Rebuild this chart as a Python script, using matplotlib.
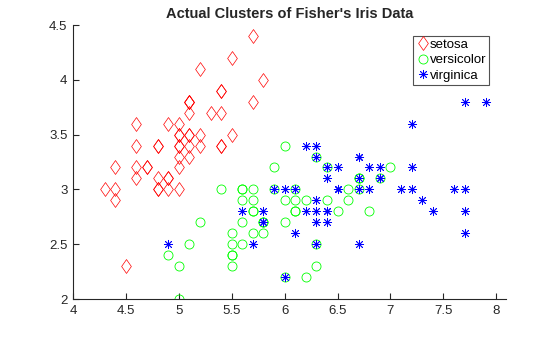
import matplotlib
matplotlib.use("Agg")
import matplotlib.pyplot as plt
from matplotlib.path import Path

plt.rcParams['font.family'] = ['Liberation Sans', 'DejaVu Sans']

setosa_sl = [5.1,4.9,4.7,4.6,5.0,5.4,4.6,5.0,4.4,4.9,5.4,4.8,4.8,4.3,5.8,5.7,5.4,5.1,5.7,5.1,
             5.4,5.1,4.6,5.1,4.8,5.0,5.0,5.2,5.2,4.7,4.8,5.4,5.2,5.5,4.9,5.0,5.5,4.9,4.4,5.1,
             5.0,4.5,4.4,5.0,5.1,4.8,5.1,4.6,5.3,5.0]
setosa_sw = [3.5,3.0,3.2,3.1,3.6,3.9,3.4,3.4,2.9,3.1,3.7,3.4,3.0,3.0,4.0,4.4,3.9,3.5,3.8,3.8,
             3.4,3.7,3.6,3.3,3.4,3.0,3.4,3.5,3.4,3.2,3.1,3.4,4.1,4.2,3.1,3.2,3.5,3.6,3.0,3.4,
             3.5,2.3,3.2,3.5,3.8,3.0,3.8,3.2,3.7,3.3]
versicolor_sl = [7.0,6.4,6.9,5.5,6.5,5.7,6.3,4.9,6.6,5.2,5.0,5.9,6.0,6.1,5.6,6.7,5.6,5.8,6.2,5.6,
                 5.9,6.1,6.3,6.1,6.4,6.6,6.8,6.7,6.0,5.7,5.5,5.5,5.8,6.0,5.4,6.0,6.7,6.3,5.6,5.5,
                 5.5,6.1,5.8,5.0,5.6,5.7,5.7,6.2,5.1,5.7]
versicolor_sw = [3.2,3.2,3.1,2.3,2.8,2.8,3.3,2.4,2.9,2.7,2.0,3.0,2.2,2.9,2.9,3.1,3.0,2.7,2.2,2.5,
                 3.2,2.8,2.5,2.8,2.9,3.0,2.8,3.0,2.9,2.6,2.4,2.4,2.7,2.7,3.0,3.4,3.1,2.3,3.0,2.5,
                 2.6,3.0,2.6,2.3,2.7,3.0,2.9,2.9,2.5,2.8]
virginica_sl = [6.3,5.8,7.1,6.3,6.5,7.6,4.9,7.3,6.7,7.2,6.5,6.4,6.8,5.7,5.8,6.4,6.5,7.7,7.7,6.0,
                6.9,5.6,7.7,6.3,6.7,7.2,6.2,6.1,6.4,7.2,7.4,7.9,6.4,6.3,6.1,7.7,6.3,6.4,6.0,6.9,
                6.7,6.9,5.8,6.8,6.7,6.7,6.3,6.5,6.2,5.9]
virginica_sw = [3.3,2.7,3.0,2.9,3.0,3.0,2.5,2.9,2.5,3.6,3.2,2.7,3.0,2.5,2.8,3.2,3.0,3.8,2.6,2.2,
                3.2,2.8,2.8,2.7,3.3,3.2,2.8,3.0,2.8,3.0,2.8,3.8,2.8,2.8,2.6,3.0,3.4,3.1,3.0,3.1,
                3.1,3.1,2.7,3.2,3.3,3.0,2.5,3.0,3.4,3.0]

xticks = [4, 4.5, 5, 5.5, 6, 6.5, 7, 7.5, 8]
xticklabels = ['4', '4.5', '5', '5.5', '6', '6.5', '7', '7.5', '8']
yticks = [2, 2.5, 3, 3.5, 4, 4.5]
yticklabels = ['2', '2.5', '3', '3.5', '4', '4.5']

W, H = 560, 337
fig = plt.figure(figsize=(W/100, H/100), dpi=100)
ax = fig.add_axes([73/W, (H-299)/H, 433/W, 274/H])

diamond = Path([(0, 1), (0.7, 0), (0, -1), (-0.7, 0), (0, 1)],
               [Path.MOVETO, Path.LINETO, Path.LINETO, Path.LINETO, Path.CLOSEPOLY])

ax.plot(setosa_sl, setosa_sw, linestyle='none', marker=diamond, markersize=10,
        markerfacecolor='none', markeredgecolor=(1, 0, 0), markeredgewidth=0.5, label='setosa')
ax.plot(versicolor_sl, versicolor_sw, linestyle='none', marker='o', markersize=6.5,
        markerfacecolor='none', markeredgecolor=(0, 1, 0), markeredgewidth=0.6, label='versicolor')
ax.plot(virginica_sl, virginica_sw, linestyle='none', marker=(8, 2, 0), markersize=6.5,
        markerfacecolor='none', markeredgecolor=(0, 0, 1), markeredgewidth=0.6, label='virginica')

ax.set_xlim(4, 8.092)
ax.set_ylim(2, 4.5)
ax.set_xticks(xticks)
ax.set_xticklabels(xticklabels)
ax.set_yticks(yticks)
ax.set_yticklabels(yticklabels)
ax.tick_params(direction='in', length=4, width=0.8, labelsize=9.5, colors='#262626', pad=4)
for s in ['top', 'right']:
    ax.spines[s].set_visible(False)
for s in ['left', 'bottom']:
    ax.spines[s].set_color('#262626')
    ax.spines[s].set_linewidth(0.8)

ax.set_title("Actual Clusters of Fisher's Iris Data", fontsize=10.5, fontweight='bold',
             color='#262626', pad=5)

leg = ax.legend(loc='upper right', bbox_to_anchor=(489/W, 1 - 36/H), bbox_transform=fig.transFigure,
                fontsize=9.5, frameon=True, fancybox=False, borderpad=0.2, labelspacing=0.25,
                handletextpad=0.05, handlelength=1.0, borderaxespad=0)
leg.get_frame().set_edgecolor('#262626')
leg.get_frame().set_linewidth(0.8)

fig.savefig('out.png', dpi=100)
